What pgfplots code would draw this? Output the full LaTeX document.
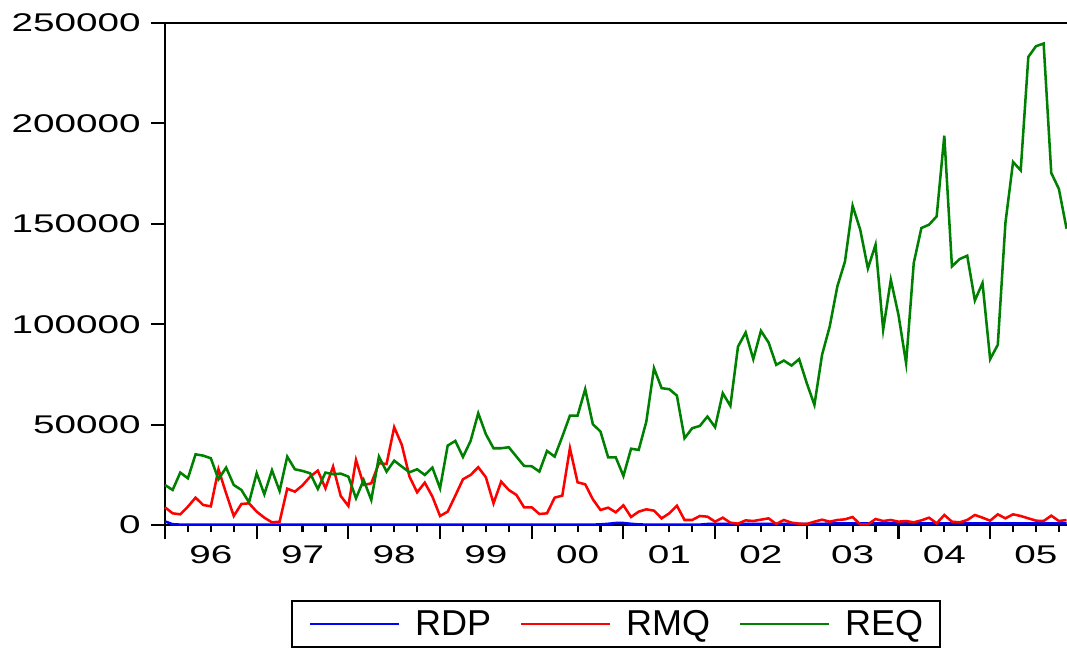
\documentclass[border=0pt]{standalone}
\usepackage{fontspec}
\setmainfont{Liberation Sans}
\newfontfamily\tickfont[FakeStretch=1.51]{Liberation Sans}
\usepackage{pgfplots}
\usepackage{pgfplotstable}
\pgfplotsset{compat=1.18}
\definecolor{egreen}{RGB}{0,128,0}
\pgfplotstableread{
i rdp rmq req
0 1800 8800 19940
1 400 5820 17450
2 200 5320 26100
3 200 9140 23270
4 200 13620 35200
5 200 9970 34550
6 200 9300 33250
7 200 27760 22780
8 200 15800 28580
9 200 4490 19940
10 200 10470 17450
11 200 10800 11300
12 200 6650 25770
13 200 3650 15300
14 200 1330 27260
15 200 1660 16950
16 200 18100 34050
17 200 16600 27760
18 200 19770 26920
19 200 24100 25770
20 200 27100 17950
21 200 18280 26100
22 200 29080 25270
23 200 14460 25600
24 200 9470 24100
25 200 32400 13300
26 200 19940 22430
27 200 20770 12460
28 200 30750 34050
29 200 30400 26590
30 200 48700 32060
31 200 39880 29080
32 200 24100 26260
33 200 16280 27760
34 200 21100 24930
35 200 14130 28580
36 200 4490 18280
37 200 6650 39550
38 200 14630 41870
39 200 22780 33900
40 200 24930 41870
41 200 28760 55670
42 200 23770 45200
43 200 10800 38230
44 200 21600 38230
45 200 17450 38730
46 200 14960 34050
47 200 8800 29410
48 200 8800 29250
49 200 5480 26590
50 200 5820 36890
51 200 13620 34050
52 200 14630 44020
53 200 38230 54490
54 200 21270 54490
55 200 20270 67640
56 200 12790 50190
57 300 7480 46530
58 600 8640 33730
59 1000 6320 33730
60 1000 9800 24430
61 600 4000 38000
62 300 6650 37390
63 200 7810 51500
64 200 7150 78100
65 200 3320 68140
66 200 5820 67640
67 200 9640 64460
68 200 2490 43200
69 200 2490 48200
70 200 4490 49350
71 500 4150 54000
72 500 1660 48700
73 500 3650 65650
74 500 1160 59320
75 500 660 88880
76 500 2320 95860
77 500 1990 82600
78 500 2660 96700
79 500 3320 90880
80 500 500 79760
81 500 2490 81900
82 500 1160 79410
83 500 660 82600
84 500 500 70640
85 500 1660 59820
86 500 2660 84750
87 800 1660 98850
88 800 2490 118800
89 800 2820 131260
90 800 3990 159000
91 800 300 147000
92 800 300 127800
93 800 2990 139580
94 800 1990 97210
95 800 2490 122130
96 800 1660 104690
97 800 1990 80600
98 800 1330 130450
99 800 2320 147900
100 800 3650 149550
101 800 830 153700
102 800 4990 193920
103 800 1660 128770
104 800 1330 132440
105 800 2490 134100
106 800 4990 111820
107 800 3650 120490
108 800 2160 82600
109 800 5320 89730
110 800 3320 150400
111 800 5320 180800
112 800 4490 176620
113 800 3320 233150
114 800 2160 238440
115 800 1990 239780
116 800 4650 175320
117 800 1990 167350
118 800 2490 147560
}\datatable
\begin{document}
\begin{tikzpicture}
\begin{axis}[
  name=ax,
  scale only axis,
  width=676.5pt, height=376.5pt,
  xmin=0, xmax=118.06, ymin=0, ymax=250000,
  clip=false,
  axis x line=box, axis y line=left,
  axis line style={-, line width=2pt, black},
  tick align=outside,
  xtick pos=left, ytick pos=left,
  major tick length=10.5pt, minor tick length=5.5pt,
  tick style={line width=1.6pt, black},
  xtick={0,12,24,36,48,60,72,84,96,108},
  xticklabels={,,,,,,,,,},
  minor xtick={3,6,9,15,18,21,27,30,33,39,42,45,51,54,57,63,66,69,75,78,81,87,90,93,99,102,105,111,114,117},
  extra x ticks={6,18,30,42,54,66,78,90,102,114},
  extra x tick labels={96,97,98,99,00,01,02,03,04,05},
  extra x tick style={major tick length=0pt, xticklabel style={inner sep=0pt, anchor=north, yshift=-15.5pt}},
  xticklabel style={font=\tickfont\fontsize{19.2}{20}\selectfont},
  ytick={0,50000,100000,150000,200000,250000},
  yticklabels={0,50000,100000,150000,200000,250000},
  yticklabel style={font=\tickfont\fontsize{19.2}{20}\selectfont, inner sep=0pt, anchor=east, xshift=-7.5pt},
  scaled y ticks=false,
  legend columns=3,
  legend style={at={(0.5,-0.1494)}, anchor=north, draw=black, line width=1.6pt,
    font=\fontsize{27}{28}\selectfont, inner xsep=12.5pt, inner ysep=6pt,
    nodes={inner xsep=0pt, inner ysep=1pt},
    /tikz/every even column/.append style={column sep=21.5pt}},
  legend image code/.code={\draw[#1, line width=1.5pt] (0pt,0pt) -- (66.75pt,0pt); \path (78pt,0pt);},
]
\addplot[blue, line width=1.9pt] table[x=i, y=rdp] {\datatable};
\addlegendentry{RDP}
\addplot[red, line width=1.9pt] table[x=i, y=rmq] {\datatable};
\addlegendentry{RMQ}
\addplot[egreen, line width=1.9pt] table[x=i, y=req] {\datatable};
\addlegendentry{REQ}
\end{axis}
\pgfresetboundingbox
\path ([xshift=-123.75pt,yshift=-91.5pt]ax.south west) rectangle ([yshift=17.25pt]ax.north east);
\end{tikzpicture}
\end{document}
